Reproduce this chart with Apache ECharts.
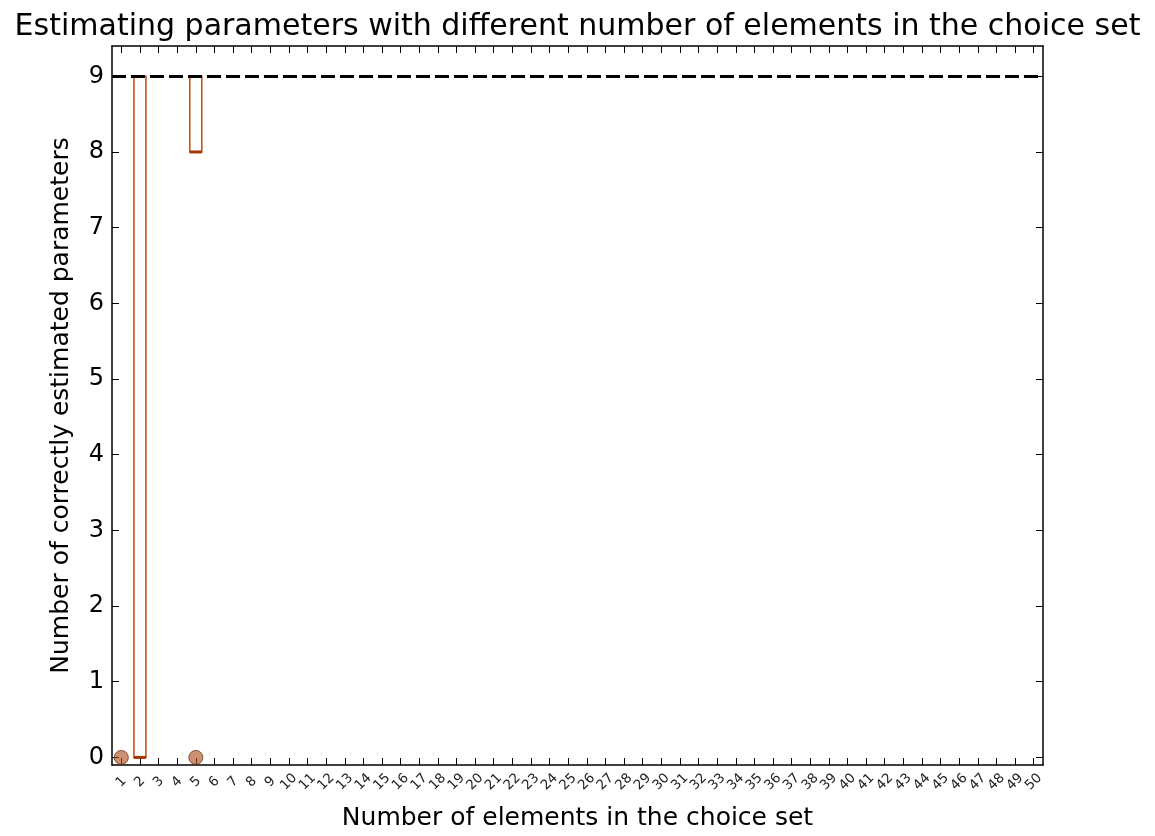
<!DOCTYPE html>
<html>
<head>
<meta charset="utf-8">
<script src="https://cdn.jsdelivr.net/npm/echarts@6/dist/echarts.min.js"></script>
<style>
  html, body { margin: 0; padding: 0; background: #fff; }
  #chart { width: 1155px; height: 836px; }
</style>
</head>
<body>
<div id="chart"></div>
<script>
// Choice-set sizes on the x axis
const categories = ['1','2','3','4','5','6','7','8','9','10','11','12','13','14','15','16','17','18','19','20',
  '21','22','23','24','25','26','27','28','29','30','31','32','33','34','35','36','37','38','39','40',
  '41','42','43','44','45','46','47','48','49','50'];

// Box statistics per choice-set size: [min, Q1, median, Q3, max]
const boxCategories = ['2', '5'];
const boxStats = [
  [0, 0, 0, 9, 9],
  [8, 8, 8, 9, 9]
];

// Outlier points: [choice-set size, value]
const outlierPoints = [['1', 0], ['5', 0]];

// Total number of parameters (reference line)
const totalParameters = 9;

// Y tick values
const yTicks = [0, 1, 2, 3, 4, 5, 6, 7, 8, 9];

const FONT = 'DejaVu Sans';
const BOX_COLOR = '#c4561f';
const MEDIAN_COLOR = '#a53605';
const BOX_PX = 12;

const Y_MIN = -0.1, Y_MAX = 9.4;

const boxData = boxCategories.map((c, i) => [categories.indexOf(c)].concat(boxStats[i]));
const medianData = boxCategories.map((c, i) => [categories.indexOf(c), boxStats[i][2]]);
const outlierData = outlierPoints.map(p => [categories.indexOf(p[0]), p[1]]);

const chart = echarts.init(document.getElementById('chart'), null, { renderer: 'canvas' });

const frameLine = { show: true, onZero: false, lineStyle: { color: '#000', width: 1.5 } };

chart.setOption({
  animation: false,
  backgroundColor: '#fff',
  title: {
    text: 'Estimating parameters with different number of elements in the choice set',
    left: 'center',
    top: 7,
    textStyle: { fontFamily: FONT, fontSize: 30, fontWeight: 'normal', color: '#000' }
  },
  grid: { left: 112, right: 112, top: 46, bottom: 68, containLabel: false },
  xAxis: [
    {
      type: 'category',
      data: categories,
      position: 'bottom',
      boundaryGap: true,
      name: 'Number of elements in the choice set',
      nameLocation: 'middle',
      nameGap: 41,
      nameTextStyle: { fontFamily: FONT, fontSize: 25, color: '#000' },
      axisLine: frameLine,
      axisTick: { show: true, inside: true, alignWithLabel: true, length: 7, lineStyle: { color: '#000' } },
      axisLabel: {
        show: true, interval: 0, rotate: 45, margin: 17,
        align: 'center', verticalAlign: 'middle',
        fontFamily: FONT, fontSize: 13.5, color: '#222'
      },
      splitLine: { show: false }
    },
    {
      type: 'category',
      data: categories,
      position: 'top',
      boundaryGap: true,
      axisLine: frameLine,
      axisTick: { show: true, inside: true, alignWithLabel: true, length: 7, lineStyle: { color: '#000' } },
      axisLabel: { show: false },
      splitLine: { show: false }
    }
  ],
  yAxis: [
    {
      type: 'value',
      min: Y_MIN,
      max: Y_MAX,
      position: 'left',
      name: 'Number of correctly estimated parameters',
      nameLocation: 'middle',
      nameGap: 38,
      nameTextStyle: { fontFamily: FONT, fontSize: 25, color: '#000' },
      axisLine: frameLine,
      axisTick: { show: true, inside: true, length: 7, customValues: yTicks, lineStyle: { color: '#000' } },
      axisLabel: { show: true, customValues: yTicks, margin: 8, fontFamily: FONT, fontSize: 24, color: '#000' },
      splitLine: { show: false }
    },
    {
      type: 'value',
      min: Y_MIN,
      max: Y_MAX,
      position: 'right',
      axisLine: frameLine,
      axisTick: { show: true, inside: true, length: 7, customValues: yTicks, lineStyle: { color: '#000' } },
      axisLabel: { show: false, customValues: yTicks },
      splitLine: { show: false }
    }
  ],
  series: [
    {
      type: 'boxplot',
      xAxisIndex: 0,
      yAxisIndex: 0,
      data: boxData,
      encode: { x: 0, y: [1, 2, 3, 4, 5] },
      boxWidth: [BOX_PX, BOX_PX],
      itemStyle: { color: '#fff', borderColor: BOX_COLOR, borderWidth: 1.6 },
      z: 3,
      markLine: {
        silent: true,
        symbol: ['none', 'none'],
        label: { show: false },
        lineStyle: { color: '#000', width: 3, type: [14, 5] },
        data: [{ yAxis: totalParameters }]
      }
    },
    {
      type: 'custom',
      xAxisIndex: 0,
      yAxisIndex: 0,
      data: medianData,
      z: 4,
      renderItem: function (params, api) {
        const c = api.coord([api.value(0), api.value(1)]);
        return {
          type: 'line',
          shape: { x1: c[0] - BOX_PX / 2, y1: c[1], x2: c[0] + BOX_PX / 2, y2: c[1] },
          style: { stroke: MEDIAN_COLOR, lineWidth: 3 }
        };
      }
    },
    {
      type: 'scatter',
      xAxisIndex: 0,
      yAxisIndex: 0,
      data: outlierData,
      symbol: 'circle',
      symbolSize: 14,
      itemStyle: { color: 'rgba(176, 82, 36, 0.8)', borderColor: '#6e3418', borderWidth: 1 },
      z: 5
    }
  ]
});
</script>
</body>
</html>
